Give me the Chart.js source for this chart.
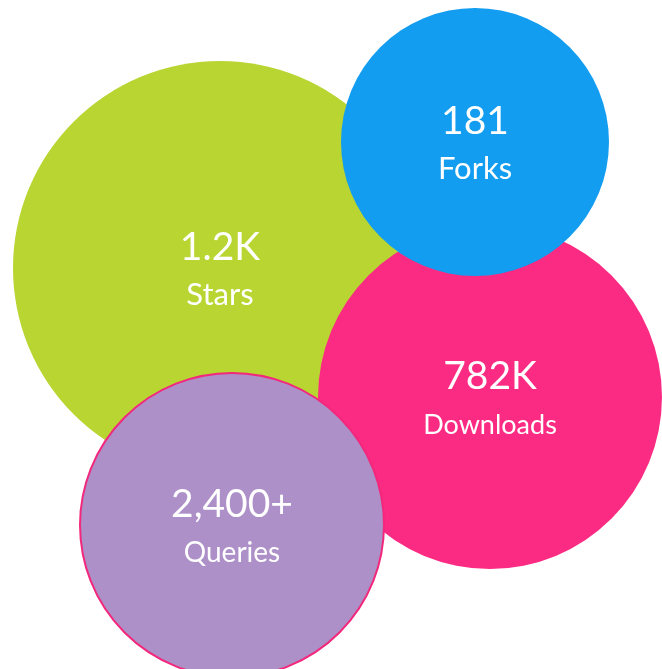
<!DOCTYPE html>
<html lang="en">
<head>
  <meta charset="UTF-8">
  <title>Project stats bubbles</title>
  <script src="https://cdn.jsdelivr.net/npm/chart.js"></script>
  <style>
    html,body{margin:0;padding:0;background:#fff}
    #wrap{width:662px;height:669px}
  </style>
</head>
<body>
<div id="wrap"><canvas id="bubbles" width="662" height="669"></canvas></div>

<script>
// drawn in this order: Stars, Downloads, Forks, Queries
const labels  = ['Stars', 'Downloads', 'Forks', 'Queries'];
const values  = ['1.2K', '782K', '181', '2,400+'];
const xs      = [220, 490, 475, 232];
const ys      = [268, 397, 142, 525];
const radii   = [207, 172, 134, 152];

const fills   = ['#b9d532', '#fb2a82', '#139df0', '#ad90c8'];
const borders = ['#b9d532', '#fb2a82', '#139df0', '#f2287c'];
const widths  = [0, 0, 0, 2];

/* text in the middle of each bubble */
const bubbleText = {
  id: 'bubbleText',
  afterDatasetsDraw(chart){
    const ctx = chart.ctx;
    const meta = chart.getDatasetMeta(0);
    ctx.save();
    ctx.fillStyle = '#fff';
    ctx.textAlign = 'center';
    ctx.textBaseline = 'alphabetic';
    meta.data.forEach((pt, i) => {
      ctx.font = '39px Lato';
      ctx.fillText(values[i], pt.x, pt.y - 8);
      ctx.font = (i == 0 || i == 2 ? '31px' : (i == 3 ? '28px' : '27px')) + ' Lato';
      ctx.fillText(labels[i], pt.x, pt.y + 37);
    });
    ctx.restore();
  }
};

new Chart(document.getElementById('bubbles'), {
  type: 'bubble',
  data: {
    labels,
    datasets: [{
      data: xs.map((x, i) => ({x, y: ys[i], r: radii[i]})),
      backgroundColor: fills,
      borderColor: borders,
      borderWidth: widths,
      clip: false
    }]
  },
  options: {
    responsive: false,
    animation: false,
    events: [],
    layout: {padding: 0, autoPadding: false},
    plugins: {legend: {display: false}, tooltip: {enabled: false}},
    scales: {
      x: {display: false, min: 0, max: 662},
      y: {display: false, min: 0, max: 669, reverse: true}
    }
  },
  plugins: [bubbleText]
});
</script>
</body>
</html>
